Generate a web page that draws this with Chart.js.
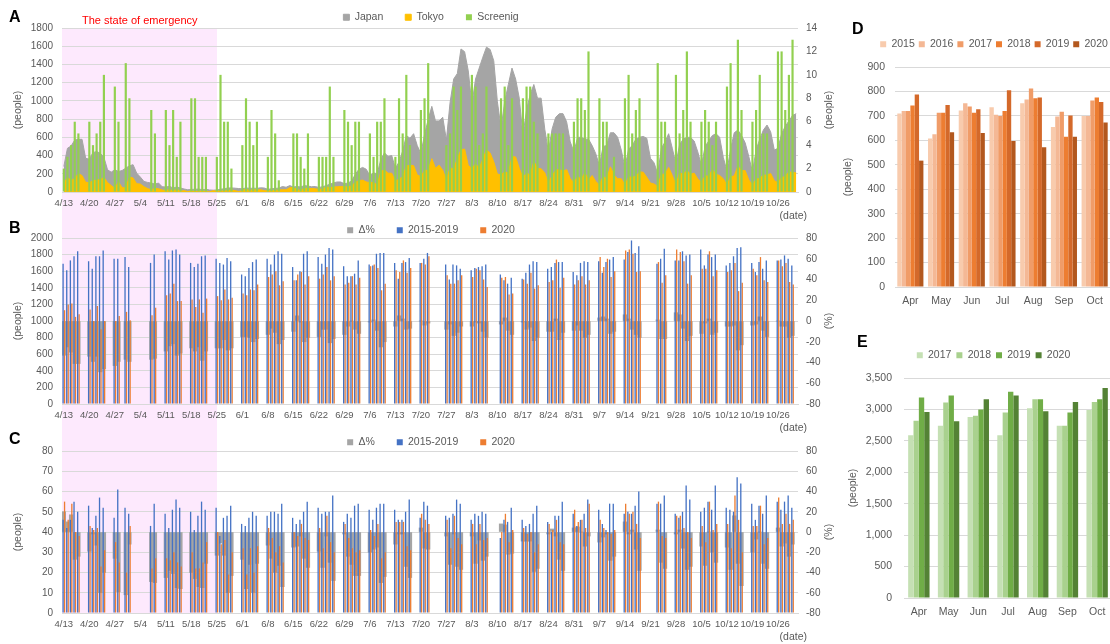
<!DOCTYPE html>
<html>
<head>
<meta charset="utf-8">
<script src="https://cdn.jsdelivr.net/npm/chart.js@4.4.1/dist/chart.umd.min.js"></script>
<style>
  html, body { margin: 0; padding: 0; background: #fff; }
  body { width: 1110px; height: 644px; position: relative; overflow: hidden; font-family: "Liberation Sans", Arial, sans-serif; }
  canvas { position: absolute; }
  .tag { position: absolute; font-weight: bold; font-size: 16px; line-height: 16px; color: #000; }
  #pink { position: absolute; background: #fde9fd; }
  #soe { position: absolute; left: 82px; top: 13px; color: #ff0000; font-size: 11px; line-height: 14px; white-space: nowrap; }
</style>
</head>
<body>
<div id="pink"></div>
<canvas id="chartA" width="862" height="232" style="left:0;top:-10px"></canvas>
<canvas id="chartB" width="862" height="231" style="left:0;top:203px"></canvas>
<canvas id="chartC" width="862" height="228" style="left:0;top:415px"></canvas>
<canvas id="chartD" width="308" height="276" style="left:840px;top:35px"></canvas>
<canvas id="chartE" width="307" height="277" style="left:840px;top:345px"></canvas>
<div id="soe">The state of emergency</div>
<div class="tag" style="left:9px;top:9px">A</div>
<div class="tag" style="left:9px;top:220px">B</div>
<div class="tag" style="left:9px;top:431px">C</div>
<div class="tag" style="left:852px;top:21px">D</div>
<div class="tag" style="left:857px;top:334px">E</div>
<script>
Chart.defaults.font.family = '"Liberation Sans", Arial, sans-serif';
Chart.defaults.color = "#595959";
Chart.defaults.animation = false;

// days 4/13 .. 10/31 (4/13 is a Monday)
const monthSpans = [[4, 13, 30], [5, 1, 31], [6, 1, 30], [7, 1, 31], [8, 1, 31], [9, 1, 30], [10, 1, 31]];
const dates = [];
monthSpans.forEach(([m, from, to]) => {
  for (let d = from; d <= to; d++) dates.push(`${m}/${d}`);
});
const emergencyEnd = "5/25";

// ---- A: daily new cases (people) and screening count
const japan = [
  280, 480, 505, 570, 578, 578, 370, 360, 433, 444, 425, 382, 244, 218, 244, 225, 236, 262,
  287, 300, 207, 164, 116, 105, 98, 87, 98, 58, 55, 62, 44, 55, 44, 33, 25, 28, 30, 33, 25, 30, 22, 20, 22, 30, 36, 44, 45, 42, 38,
  35, 45, 40, 42, 40, 46, 44, 30, 35, 40, 42, 60, 52, 70, 55, 60, 55, 70, 65, 58, 60, 50, 58, 70, 85, 100, 110, 110, 90, 100,
  120, 195, 250, 270, 250, 180, 210, 200, 355, 430, 390, 400, 260, 330, 450, 620, 590, 640, 510, 420, 630, 795, 940, 780, 780, 820, 570, 980, 1240, 1300, 1570,
  1540, 1330, 960, 1240, 1360, 1480, 1590, 1565, 1440, 990, 700, 990, 1180, 1360, 1240, 1030, 620, 900, 1070, 1180, 1030, 1030, 690, 440, 690, 820, 860, 860, 770, 550, 440,
  600, 600, 580, 580, 510, 420, 290, 500, 510, 650, 650, 600, 460, 270, 470, 510, 580, 600, 610, 590, 370, 320, 200, 480, 550, 640, 480, 310, 520, 580,
  600, 600, 560, 440, 290, 500, 560, 620, 640, 600, 380, 230, 470, 650, 680, 620, 540, 390, 220, 460, 580, 680, 735, 660, 460, 480, 640, 720, 780, 840, 860,
];
const tokyo = [
  91, 161, 127, 149, 201, 181, 107, 102, 123, 132, 134, 161, 103, 72, 39, 112, 47, 46,
  165, 154, 91, 87, 58, 38, 23, 39, 36, 22, 15, 28, 10, 30, 9, 14, 5, 10, 5, 5, 11, 3, 2, 14, 8, 10, 11, 15, 22, 14, 5,
  13, 34, 12, 28, 20, 26, 14, 13, 12, 18, 22, 25, 24, 47, 48, 27, 16, 41, 35, 39, 35, 29, 31, 55, 48, 54, 57, 60, 58, 54,
  67, 107, 124, 131, 111, 102, 106, 75, 224, 243, 206, 206, 119, 143, 165, 286, 293, 290, 188, 168, 237, 238, 366, 260, 295, 239, 131, 266, 250, 367, 463,
  472, 292, 258, 309, 263, 360, 462, 429, 331, 197, 188, 222, 206, 389, 385, 260, 161, 207, 186, 339, 258, 256, 212, 95, 182, 236, 250, 226, 247, 148, 100,
  170, 141, 211, 136, 181, 116, 77, 170, 149, 276, 187, 146, 146, 80, 163, 163, 172, 220, 218, 162, 98, 88, 59, 195, 195, 270, 181, 78, 212, 194,
  235, 196, 207, 143, 102, 178, 173, 248, 196, 181, 146, 78, 167, 177, 284, 235, 235, 132, 78, 139, 150, 185, 186, 203, 124, 102, 158, 171, 221, 215, 209,
];
const screening = [
  2, 3, 4, 6, 5, 0, 0,   6, 4, 5, 6, 10, 0, 0,   9, 6, 0, 11, 8, 0, 0,   0, 0, 0, 7, 5, 0, 0,
  7, 4, 7, 3, 6, 0, 0,   8, 8, 3, 3, 3, 0, 0,    3, 10, 6, 6, 2, 0, 0,   4, 8, 6, 4, 6, 0, 0,
  3, 7, 5, 1, 0, 0, 0,   5, 5, 3, 2, 5, 0, 0,    3, 3, 3, 9, 3, 0, 0,    7, 6, 4, 6, 6, 0, 0,
  5, 3, 6, 6, 8, 0, 0,   3, 8, 5, 10, 4, 0, 0,   7, 8, 11, 0, 0, 0, 0,   4, 5, 9, 7, 9, 0, 0,
  10, 9, 4, 5, 9, 0, 0,  0, 8, 9, 4, 8, 0, 0,    8, 9, 9, 6, 5, 0, 0,    5, 5, 5, 5, 5, 0, 0,
  6, 8, 8, 7, 12, 0, 0,  8, 6, 6, 0, 3, 0, 0,    8, 10, 5, 7, 8, 0, 0,   0, 0, 11, 6, 6, 0, 0,
  10, 5, 7, 12, 6, 0, 0, 6, 7, 6, 4, 6, 0, 0,    9, 11, 0, 13, 7, 0, 0,  6, 7, 10, 5, 5, 0, 0,
  12, 12, 7, 10, 13, 0,
];

// ---- B and C: weekday values (Mon..Fri for each week from 4/13), null = holiday
const avgB = [
  1690, 1610, 1730, 1780, 1840,  1720, 1630, 1780, 1780, 1850,  1750, 1750, null, 1770, 1650,  null, null, null, 1700, 1800,
  1840, 1740, 1850, 1860, 1800,  1700, 1650, 1690, 1780, 1790,  1750, 1700, 1680, 1760, 1720,  1560, 1540, 1640, 1710, 1740,
  1750, 1680, 1800, 1840, 1810,  1650, 1490, 1600, 1810, 1840,  1770, 1690, 1800, 1880, 1860,  1660, 1540, 1540, 1570, 1730,
  1680, 1670, 1810, 1820, 1820,  1700, 1510, 1700, 1710, 1760,  1700, 1750, 1820, null, null,  1680, 1500, 1680, 1670, 1630,
  1610, 1640, 1650, 1660, 1680,  null, 1560, 1490, 1450, 1520,  1510, 1580, 1680, 1720, 1710,  1630, 1650, 1700, 1710, 1710,
  1590, 1550, 1700, 1720, 1710,  1720, 1580, 1710, 1740, 1770,  1740, 1830, 1970, 1820, 1900,  null, null, 1690, 1750, 1870,
  1730, 1730, 1840, 1790, 1800,  1860, 1670, 1800, 1770, 1800,  1670, 1700, 1780, 1880, 1890,  1700, 1590, 1710, 1630, 1730,
  1730, 1740, 1790, 1750, 1670,
];
const curB = [
  1130, 1200, 1210, 1050, 1080,  1140, 1000, 1180, 900, 1000,  1000, 1060, null, 1110, 1010,  null, null, null, 1070, 1160,
  1310, 1330, 1450, 1240, 1240,  1260, 1170, 1260, 1100, 1270,  1300, 1250, 1380, 1260, 1280,  1330, 1310, 1380, 1370, 1440,
  1530, 1560, 1600, 1430, 1480,  1490, 1560, 1590, 1440, 1540,  1510, 1560, 1650, 1490, 1540,  1440, 1460, 1540, 1440, 1520,
  1660, 1680, 1640, 1370, 1450,  1610, 1590, 1730, 1580, 1640,  1700, 1680, 1780, null, null,  1550, 1450, 1450, 1490, 1550,
  1530, 1630, 1610, 1500, 1410,  null, 1520, 1530, 1320, 1330,  1500, 1450, 1580, 1390, 1430,  1470, 1490, 1740, 1400, 1520,
  1440, 1490, 1540, 1440, 1490,  1770, 1650, 1750, 1530, 1600,  1850, 1860, 1810, 1590, 1600,  null, null, 1710, 1460, 1550,
  1860, 1830, 1720, 1450, 1550,  1630, 1630, 1840, 1540, 1610,  1590, 1610, 1700, 1360, 1460,  1630, 1550, 1770, 1490, 1470,
  1730, 1660, 1700, 1470, 1440,
];
const deltaB = [
  -33, -25, -30, -41, -41,  -34, -39, -34, -49, -46,  -43, -39, null, -37, -39,  null, null, null, -37, -36,
  -29, -24, -22, -33, -31,  -26, -29, -25, -38, -29,  -26, -26, -18, -28, -26,  -15, -15, -16, -20, -17,
  -13, -7, -11, -22, -18,   -10, 5, -1, -20, -16,     -15, -8, -8, -21, -17,    -13, -5, 0, -8, -12,
  -1, 1, -9, -25, -20,      -5, 5, 2, -8, -7,         0, -4, -2, null, null,    -8, -3, -14, -11, -5,
  -5, -1, -2, -10, -16,     null, -3, 3, -9, -13,     -1, -8, -6, -19, -16,     -10, -10, 2, -18, -11,
  -9, -4, -9, -16, -13,     3, 4, 2, -12, -10,        6, 2, -8, -13, -16,       null, null, 1, -17, -17,
  8, 6, -7, -19, -14,       -12, -2, 2, -13, -11,     -5, -5, -4, -28, -23,     -4, -3, 4, -9, -15,
  0, -5, -5, -16, -14,
];
const avgC = [
  46, 42, 46, 55, 50,  53, 42, 48, 57, 52,  47, 61, null, 52, 49,  null, null, null, 43, 54,
  49, 42, 51, 56, 52,  50, 41, 48, 55, 51,  52, 38, 47, 48, 53,    44, 43, 47, 50, 48,
  48, 50, 50, 49, 54,  47, 44, 46, 50, 55,  52, 49, 50, 50, 58,    45, 49, 47, 53, 54,
  51, 46, 52, 54, 54,  51, 46, 46, 50, 56,  47, 55, 53, null, null, 48, 47, 49, 56, 54,
  46, 49, 48, 50, 49,  null, 37, 46, 45, 52, 46, 43, 44, 49, 53,   45, 40, 48, 48, 55,
  49, 43, 46, 49, 56,  51, 44, 41, 54, 54,  49, 50, 49, 53, 60,    null, null, 54, 54, 58,
  49, 47, 50, 63, 56,  50, 52, 55, 51, 63,  52, 51, 50, 67, 64,    54, 46, 53, 49, 58,
  55, 51, 55, 58, 52,
];
const curC = [
  55, 46, 54, 40, 38,  43, 41, 42, 23, 31,  35, 25, null, 20, 43,  null, null, null, 22, 27,
  27, 26, 30, 25, 23,  30, 22, 22, 25, 35,  40, 34, 36, 19, 30,    32, 19, 32, 20, 33,
  42, 37, 30, 33, 25,  40, 38, 44, 37, 36,  42, 32, 48, 35, 30,    44, 37, 32, 30, 31,
  41, 38, 44, 27, 30,  45, 45, 45, 33, 31,  49, 46, 44, null, null, 46, 32, 48, 37, 34,
  44, 34, 44, 36, 37,  null, 40, 49, 35, 41, 42, 39, 40, 30, 34,   44, 41, 46, 35, 34,
  51, 45, 46, 42, 54,  46, 42, 40, 39, 41,  54, 49, 50, 44, 37,    null, null, 55, 38, 37,
  48, 48, 42, 40, 37,  43, 35, 55, 41, 44,  44, 32, 58, 46, 30,    43, 43, 53, 34, 37,
  57, 44, 49, 44, 46,
];
const deltaC = [
  20, 10, 17, -27, -24,   -19, -2, -13, -60, -40,  -26, -59, null, -62, -12,  null, null, null, -49, -50,
  -45, -38, -41, -55, -56, -40, -46, -54, -55, -31, -23, -11, -23, -60, -43,  -27, -56, -32, -60, -31,
  -13, -26, -40, -33, -54, -15, -14, -4, -26, -35,  -19, -35, -4, -30, -48,   -2, -24, -32, -43, -43,
  -20, -17, -15, -50, -44, -12, -2, -2, -34, -45,   4, -16, -17, null, null,   -4, -32, -2, -34, -37,
  -4, -31, -8, -28, -24,   null, 8, 7, -22, -21,    -9, -9, -9, -39, -36,     -2, 3, -4, -27, -38,
  4, 5, 0, -14, -4,        -10, -5, -2, -28, -24,   10, -2, 2, -17, -38,      null, null, 2, -30, -36,
  -2, 2, -16, -37, -34,    -14, -33, 0, -20, -30,   -15, -37, 16, -31, -53,   -20, -7, 0, -31, -36,
  4, -14, -11, -24, -12,
];

// ---- D and E: monthly totals
const months = ["Apr", "May", "Jun", "Jul", "Aug", "Sep", "Oct"];
const d2015 = [710, 608, 722, 735, 752, 655, 700];
const d2016 = [720, 625, 752, 705, 767, 698, 700];
const d2017 = [720, 713, 738, 700, 812, 717, 763];
const d2018 = [742, 713, 713, 720, 772, 615, 775];
const d2019 = [787, 745, 727, 805, 775, 702, 757];
const d2020 = [517, 633, 630, 597, 572, 615, 673];
const e2017 = [2590, 2740, 2880, 2590, 3020, 2740, 2990];
const e2018 = [2820, 3110, 2900, 2950, 3160, 2740, 3120];
const e2019 = [3190, 3220, 3000, 3280, 3160, 2950, 3160];
const e2020 = [2960, 2810, 3160, 3220, 2970, 3120, 3340];

// weekday lists -> one slot per day, weekends empty
const byWeekday = vals => dates.map((_, i) => (i % 7 < 5 ? vals[Math.floor(i / 7) * 5 + (i % 7)] : null));

const GRID = "#d9d9d9";

// fixes the legend block height so the plot top lands where it should
const legendHeight = {
  id: "legendHeight",
  beforeLayout(chart, args, opts) {
    const legend = chart.legend;
    if (!legend || legend._fixedFit) return;
    const fit = legend.fit;
    legend.fit = function () {
      fit.call(this);
      this.height = opts.height;
    };
    legend._fixedFit = true;
  },
};

// right axis title (read bottom-to-top) and the "(date)" note
const sideTitles = {
  id: "sideTitles",
  afterDraw(chart, args, opts) {
    const ctx = chart.ctx;
    ctx.save();
    ctx.font = '10.5px "Liberation Sans", Arial, sans-serif';
    ctx.fillStyle = "#595959";
    ctx.textBaseline = "middle";
    if (opts.right) {
      const s = chart.scales.y1;
      ctx.save();
      ctx.translate(s.left + 31, (s.top + s.bottom) / 2);
      ctx.rotate(-Math.PI / 2);
      ctx.textAlign = "center";
      ctx.fillText(opts.right, 0, 0);
      ctx.restore();
    }
    if (opts.date) {
      const s = chart.scales.x;
      ctx.textAlign = "right";
      ctx.fillText(opts.date, s.right + 9, s.top + 24);
    }
    ctx.restore();
  },
};

const legendOpts = pad => ({
  position: "top",
  labels: {
    boxWidth: 6,
    boxHeight: 6,
    padding: pad,
    font: { size: 10.5 },
    color: "#595959",
    sort: (a, b) => a.datasetIndex - b.datasetIndex,
  },
});

const dayAxis = () => ({
  grid: { display: false, drawTicks: false },
  border: { color: GRID },
  ticks: {
    autoSkip: false,
    maxRotation: 0,
    minRotation: 0,
    padding: 6,
    font: { size: 9.5 },
    callback: (v, i) => (i % 7 === 0 ? dates[i] : ""),
  },
  afterFit: s => { s.height = 30; },
});

const leftAxis = (max, step) => ({
  position: "left",
  min: 0,
  max: max,
  stacked: false,
  grid: { color: GRID, drawTicks: false },
  border: { display: false },
  ticks: { stepSize: step, padding: 9, font: { size: 10 }, callback: v => String(v) },
  title: { display: true, text: "(people)", font: { size: 10.5 }, padding: { top: 11.5, bottom: 0 } },
  afterFit: s => { s.width = 62; },
});

const rightAxis = (min, max, step) => ({
  position: "right",
  min: min,
  max: max,
  stacked: false,
  grid: { drawOnChartArea: false, drawTicks: false },
  border: { display: false },
  ticks: { stepSize: step, padding: 8, font: { size: 10 }, callback: v => String(v) },
  afterFit: s => { s.width = 64; },
});

const chartA = new Chart(document.getElementById("chartA"), {
  type: "bar",
  data: {
    labels: dates,
    datasets: [
      { type: "line", label: "Japan", data: japan, yAxisID: "y", backgroundColor: "#a5a5a5", borderColor: "#a5a5a5",
        borderWidth: 1, pointRadius: 0, fill: "origin", tension: 0, order: 3 },
      { type: "line", label: "Tokyo", data: tokyo, yAxisID: "y", backgroundColor: "#ffc000", borderColor: "#ffc000",
        borderWidth: 1, pointRadius: 0, fill: "origin", tension: 0, order: 2 },
      { type: "bar", label: "Screenig", data: screening, yAxisID: "y1", backgroundColor: "#92d050",
        barPercentage: 0.6, categoryPercentage: 1, order: 1 },
    ],
  },
  options: {
    responsive: false,
    animation: false,
    layout: { padding: 0 },
    scales: { x: dayAxis(), y: leftAxis(1800, 200), y1: rightAxis(0, 14, 2) },
    plugins: {
      legend: legendOpts(22),
      legendHeight: { height: 38 },
      sideTitles: { right: "(people)", date: "(date)" },
      tooltip: { enabled: false },
    },
  },
  plugins: [legendHeight, sideTitles],
});

const weekdayChart = (id, avg, cur, delta, max, step, legendH) =>
  new Chart(document.getElementById(id), {
    type: "bar",
    data: {
      labels: dates,
      datasets: [
        { label: "Δ%", data: byWeekday(delta), yAxisID: "y1", backgroundColor: "#a5a5a5", grouped: false,
          barPercentage: 1, categoryPercentage: 1, stack: "avg", order: 2 },
        { label: "2015-2019", data: byWeekday(avg), yAxisID: "y", backgroundColor: "#4472c4",
          barPercentage: 0.9, categoryPercentage: 0.8, stack: "avg", order: 0 },
        { label: "2020", data: byWeekday(cur), yAxisID: "y", backgroundColor: "#ed7d31",
          barPercentage: 0.9, categoryPercentage: 0.8, stack: "cur", order: 1 },
      ],
    },
    options: {
      responsive: false,
      animation: false,
      layout: { padding: 0 },
      scales: { x: dayAxis(), y: leftAxis(max, step), y1: rightAxis(-80, 80, 20) },
      plugins: {
        legend: legendOpts(22),
        legendHeight: { height: legendH },
        sideTitles: { right: "(%)", date: "(date)" },
        tooltip: { enabled: false },
      },
    },
    plugins: [legendHeight, sideTitles],
  });

const chartB = weekdayChart("chartB", avgB, curB, deltaB, 2000, 200, 35);
const chartC = weekdayChart("chartC", avgC, curC, deltaC, 80, 10, 36);

const monthChart = (id, sets, opts) =>
  new Chart(document.getElementById(id), {
    type: "bar",
    data: {
      labels: months,
      datasets: sets.map(([label, data, color]) => ({
        label, data, backgroundColor: color, barPercentage: 1, categoryPercentage: opts.cat,
      })),
    },
    options: {
      responsive: false,
      animation: false,
      layout: { padding: 0 },
      scales: {
        x: {
          grid: { display: false, drawTicks: false },
          border: { color: GRID },
          ticks: { padding: 7.5, font: { size: 10.5 } },
          afterFit: s => { s.height = 24; },
        },
        y: {
          min: 0,
          max: opts.max,
          grid: { color: GRID, drawTicks: false },
          border: { display: false },
          ticks: { stepSize: opts.step, padding: opts.tickPad, font: { size: 10.5 },
                   callback: v => v.toLocaleString("en-US") },
          title: { display: true, text: "(people)", font: { size: 10.5 }, padding: { top: opts.titlePad, bottom: 0 } },
          afterFit: s => { s.width = opts.axisW; },
        },
        yPad: {
          position: "right",
          display: true,
          grid: { display: false, drawTicks: false },
          border: { display: false },
          ticks: { display: false },
          afterFit: s => { s.width = opts.padW; },
        },
      },
      plugins: {
        legend: legendOpts(opts.legendPad),
        legendHeight: { height: opts.legendH },
        tooltip: { enabled: false },
      },
    },
    plugins: [legendHeight],
  });

monthChart("chartD", [
  ["2015", d2015, "#f8cbad"], ["2016", d2016, "#f4b895"], ["2017", d2017, "#f09c68"],
  ["2018", d2018, "#ed7d31"], ["2019", d2019, "#d4692a"], ["2020", d2020, "#b3581e"],
], { cat: 0.85, max: 900, step: 100, tickPad: 10, titlePad: 1.7, axisW: 55, padW: 38, legendPad: 4, legendH: 32 });

monthChart("chartE", [
  ["2017", e2017, "#c5e0b4"], ["2018", e2018, "#a9d18e"], ["2019", e2019, "#70ad47"], ["2020", e2020, "#548235"],
], { cat: 0.72, max: 3500, step: 500, tickPad: 12, titlePad: 6.7, axisW: 64, padW: 35, legendPad: 5, legendH: 33 });

// state of emergency band, spanning panels A to C
const canvasA = document.getElementById("chartA");
const canvasC = document.getElementById("chartC");
const pink = document.getElementById("pink");
const bandLeft = chartA.chartArea.left;
const bandRight = chartA.scales.x.getPixelForValue(dates.indexOf(emergencyEnd));
const bandTop = canvasA.offsetTop + chartA.chartArea.top;
const bandBottom = canvasC.offsetTop + chartC.chartArea.bottom;
pink.style.left = bandLeft + "px";
pink.style.width = bandRight - bandLeft + "px";
pink.style.top = bandTop + "px";
pink.style.height = bandBottom - bandTop + "px";
</script>
</body>
</html>
